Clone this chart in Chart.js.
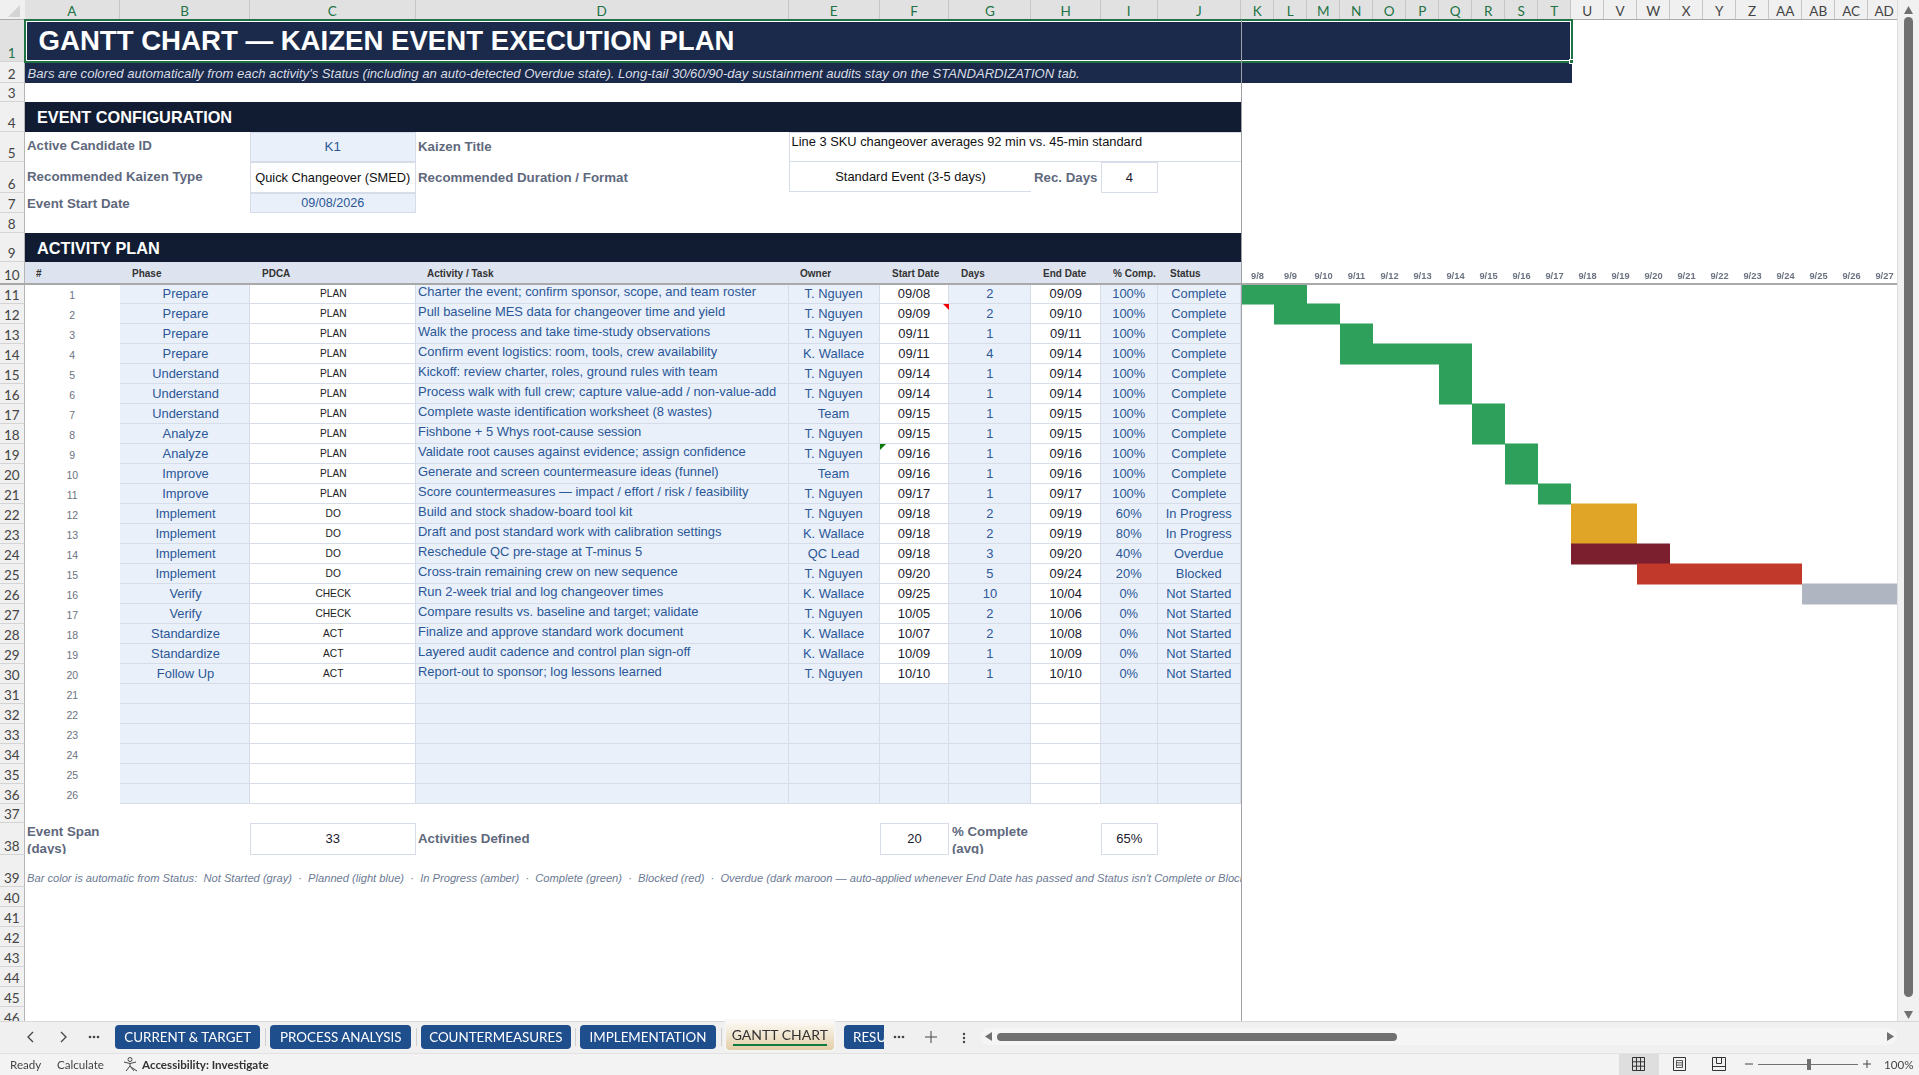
<!DOCTYPE html>
<html>
<head>
<meta charset="utf-8">
<title>Gantt Chart</title>
<script src="https://cdn.jsdelivr.net/npm/chart.js@4"></script>
<style>
html, body { margin: 0; padding: 0; background: #fff; }
#sheet { position: relative; width: 1919px; height: 1075px; overflow: hidden; font-family: "Liberation Sans", Arial, sans-serif; }
.c { position: absolute; box-sizing: border-box; display: flex; align-items: center; overflow: hidden; white-space: nowrap; }
#gantt { position: absolute; left: 1241px; top: 262px; z-index: 3; }
svg { position: absolute; overflow: visible; }
</style>
</head>
<body>
<div id="sheet"><canvas id="gantt" width="660" height="542"></canvas></div>
<script>
// table columns, read from the sheet
var activityNo = [1,2,3,4,5,6,7,8,9,10,11,12,13,14,15,16,17,18,19,20,21,22,23,24,25,26];
var phases = ["Prepare","Prepare","Prepare","Prepare","Understand","Understand","Understand","Analyze","Analyze","Improve","Improve","Implement","Implement","Implement","Implement","Verify","Verify","Standardize","Standardize","Follow Up"];
var pdca = ["PLAN","PLAN","PLAN","PLAN","PLAN","PLAN","PLAN","PLAN","PLAN","PLAN","PLAN","DO","DO","DO","DO","CHECK","CHECK","ACT","ACT","ACT"];
var activities = [
  "Charter the event; confirm sponsor, scope, and team roster",
  "Pull baseline MES data for changeover time and yield",
  "Walk the process and take time-study observations",
  "Confirm event logistics: room, tools, crew availability",
  "Kickoff: review charter, roles, ground rules with team",
  "Process walk with full crew; capture value-add / non-value-add",
  "Complete waste identification worksheet (8 wastes)",
  "Fishbone + 5 Whys root-cause session",
  "Validate root causes against evidence; assign confidence",
  "Generate and screen countermeasure ideas (funnel)",
  "Score countermeasures \u2014 impact / effort / risk / feasibility",
  "Build and stock shadow-board tool kit",
  "Draft and post standard work with calibration settings",
  "Reschedule QC pre-stage at T-minus 5",
  "Cross-train remaining crew on new sequence",
  "Run 2-week trial and log changeover times",
  "Compare results vs. baseline and target; validate",
  "Finalize and approve standard work document",
  "Layered audit cadence and control plan sign-off",
  "Report-out to sponsor; log lessons learned"
];
var owners = ["T. Nguyen","T. Nguyen","T. Nguyen","K. Wallace","T. Nguyen","T. Nguyen","Team","T. Nguyen","T. Nguyen","Team","T. Nguyen","T. Nguyen","K. Wallace","QC Lead","T. Nguyen","K. Wallace","T. Nguyen","K. Wallace","K. Wallace","T. Nguyen"];
var startDates = ["09/08","09/09","09/11","09/11","09/14","09/14","09/15","09/15","09/16","09/16","09/17","09/18","09/18","09/18","09/20","09/25","10/05","10/07","10/09","10/10"];
var durations = [2,2,1,4,1,1,1,1,1,1,1,2,2,3,5,10,2,2,1,1];
var endDates = ["09/09","09/10","09/11","09/14","09/14","09/14","09/15","09/15","09/16","09/16","09/17","09/19","09/19","09/20","09/24","10/04","10/06","10/08","10/09","10/10"];
var pctComplete = [100,100,100,100,100,100,100,100,100,100,100,60,80,40,20,0,0,0,0,0];
var statuses = ["Complete","Complete","Complete","Complete","Complete","Complete","Complete","Complete","Complete","Complete","Complete","In Progress","In Progress","Overdue","Blocked","Not Started","Not Started","Not Started","Not Started","Not Started"];
var dayLabels = ["9/8","9/9","9/10","9/11","9/12","9/13","9/14","9/15","9/16","9/17","9/18","9/19","9/20","9/21","9/22","9/23","9/24","9/25","9/26","9/27"];

var statusColor = { "Complete": "#2EA05B", "In Progress": "#E0A526", "Overdue": "#7B1E2E", "Blocked": "#C0392B", "Not Started": "#AFB5C1" };

// sheet geometry
var colX = [24.5,120,250,415.5,788.6,879.6,949.4,1031.4,1101,1157.5,1241];
var ganttLeft = 1241.2, ganttCol = 33;
var rowY = [19.5,61.5,82.7,102,131.7,162.3,193.3,213.3,233,262,283.7];
for (var r = 0; r < 26; r++) rowY.push(283.7 + 20 * (r + 1));
rowY.push(823.3, 854.7, 886.7);
for (r = 0; r < 7; r++) rowY.push(906.7 + 20 * r);

var BLUE = "#2B5797", INK = "#1A1A2E", SLATE = "#5F697D", TINT = "#E9F0FA", LINE = "#D6DCE8", NAVY = "#1B2A4A", DARK = "#111C33";
var UI = "Lato, 'Liberation Sans', sans-serif";
var sheet = document.getElementById("sheet");

function put(x0, y0, x1, y1, text, style) {
  var d = document.createElement("div");
  d.className = "c";
  d.style.left = x0 + "px";
  d.style.top = y0 + "px";
  d.style.width = (x1 - x0) + "px";
  d.style.height = (y1 - y0) + "px";
  for (var k in (style || {})) d.style[k] = style[k];
  if (text !== undefined && text !== null) d.textContent = text;
  sheet.appendChild(d);
  return d;
}
function addSvg(x, y, w, h, inner) {
  var wrap = document.createElement("div");
  wrap.innerHTML = '<svg xmlns="http://www.w3.org/2000/svg" style="left:' + x + 'px;top:' + y + 'px" width="' + w + '" height="' + h + '" viewBox="0 0 ' + w + ' ' + h + '">' + inner + '</svg>';
  sheet.appendChild(wrap.firstChild);
}
function rowTop(n) { return rowY[n - 1]; }
function rowEnd(n) { return rowY[n]; }
function colL(i) { return colX[i]; }
function boxed(bg) { return { background: bg, border: "1px solid " + LINE, justifyContent: "center" }; }
function mix(a, b) { var o = {}, k; for (k in a) o[k] = a[k]; for (k in b) o[k] = b[k]; return o; }

// column and row headers
var colNames = ["A","B","C","D","E","F","G","H","I","J"];
var ganttNames = ["K","L","M","N","O","P","Q","R","S","T","U","V","W","X","Y","Z","AA","AB","AC","AD"];
put(0, 0, 1897, 19.5, null, { background: "#F0F0F0" });
addSvg(8, 5, 13, 13, '<path d="M12 0V12H0Z" fill="#D4D4D4"/>');
function colHead(x0, x1, name, on) {
  put(x0, 0, x1, 19.5, name, { background: on ? "#E1E1E1" : "#F0F0F0", color: on ? "#217346" : "#444", justifyContent: "center", fontFamily: UI, fontSize: "13.5px", borderRight: "1px solid #C6C6C6", paddingTop: "3px" });
}
colNames.forEach(function (n, i) { colHead(colX[i], colX[i + 1], n, true); });
ganttNames.forEach(function (n, i) { colHead(ganttLeft + ganttCol * i, ganttLeft + ganttCol * (i + 1), n, i < 10); });
put(0, 19, 1897, 20, null, { background: "#ABABAB" });
for (r = 1; r <= 46; r++) {
  put(0, rowTop(r), 24.5, rowEnd(r), String(r), { background: r === 1 ? "#E1E1E1" : "#F0F0F0", color: r === 1 ? "#217346" : "#444", justifyContent: "center", alignItems: "flex-end", fontFamily: UI, fontSize: "13.5px", borderBottom: "1px solid #D4D4D4", borderRight: "1px solid #B5B5B5" });
}

// title rows
put(24.5, rowTop(1), 1572, rowEnd(1), "GANTT CHART \u2014 KAIZEN EVENT EXECUTION PLAN", { background: NAVY, color: "#fff", fontWeight: "bold", fontSize: "27.6px", paddingLeft: "14px", zIndex: 1 });
put(24.5, rowTop(2), 1572, rowEnd(2), "Bars are colored automatically from each activity's Status (including an auto-detected Overdue state). Long-tail 30/60/90-day sustainment audits stay on the STANDARDIZATION tab.", { background: NAVY, color: "#D9DDE6", fontStyle: "italic", fontSize: "13.1px", paddingLeft: "3px", paddingTop: "2px" });
put(24, 18.5, 1572.5, 62.5, null, { border: "2px solid #217346", boxShadow: "inset 0 0 0 1px #fff", zIndex: 2 });
put(1569, 59, 1574, 64, null, { background: "#217346", border: "1px solid #fff", zIndex: 4 });

// event configuration
put(24.5, rowTop(4), 1241, rowEnd(4), "EVENT CONFIGURATION", { background: DARK, color: "#fff", fontWeight: "bold", fontSize: "16.3px", paddingLeft: "12.5px", paddingTop: "2px" });
var labelStyle = { color: SLATE, fontWeight: "bold", fontSize: "13.3px", paddingLeft: "2.5px" };
put(24.5, rowTop(5), 250, rowEnd(5) - 2, "Active Candidate ID", labelStyle);
put(colL(2), rowTop(5), colL(3), rowEnd(5), "K1", mix(boxed(TINT), { color: BLUE, fontSize: "13.3px" }));
put(colL(3), rowTop(5), colL(4), rowEnd(5), "Kaizen Title", labelStyle);
put(colL(4), rowTop(5), colL(10), rowEnd(5), "Line 3 SKU changeover averages 92 min vs. 45-min standard", { color: "#111", fontSize: "12.85px", alignItems: "flex-start", paddingLeft: "2px", paddingTop: "1px", borderTop: "1px solid " + LINE, borderBottom: "1px solid " + LINE, borderLeft: "1px solid " + LINE });
put(24.5, rowTop(6), 250, rowEnd(6) - 2, "Recommended Kaizen Type", labelStyle);
put(colL(2), rowTop(6), colL(3), rowEnd(6), "Quick Changeover (SMED)", mix(boxed("#fff"), { color: "#111", fontSize: "12.8px" }));
put(colL(3), rowTop(6), colL(4), rowEnd(6), "Recommended Duration / Format", labelStyle);
put(colL(4), rowTop(6), colL(7), rowEnd(6) - 1, "Standard Event (3-5 days)", { color: "#111", fontSize: "12.9px", justifyContent: "center", borderLeft: "1px solid " + LINE, borderBottom: "1px solid " + LINE });
put(colL(7), rowTop(6), colL(8), rowEnd(6), "Rec. Days", labelStyle);
put(colL(8), rowTop(6), colL(9), rowEnd(6), "4", mix(boxed("#fff"), { color: INK, fontSize: "13px" }));
put(24.5, rowTop(7), 250, rowEnd(7), "Event Start Date", labelStyle);
put(colL(2), rowTop(7), colL(3), rowEnd(7), "09/08/2026", mix(boxed(TINT), { color: BLUE, fontSize: "12.6px" }));

// activity plan
put(24.5, rowTop(9), 1241, rowEnd(9), "ACTIVITY PLAN", { background: DARK, color: "#fff", fontWeight: "bold", fontSize: "16.3px", paddingLeft: "12.5px", paddingTop: "1px" });
put(24.5, rowTop(10), 1241, rowEnd(10), null, { background: "#DDE4EF" });
var headers = [["#",36],["Phase",132],["PDCA",262],["Activity / Task",427],["Owner",800],["Start Date",892],["Days",961],["End Date",1043],["% Comp.",1113],["Status",1170]];
headers.forEach(function (h) {
  put(h[1], rowTop(10), h[1] + 80, rowEnd(10), h[0], { color: "#333", fontWeight: "bold", fontSize: "10px", paddingTop: "2px" });
});

var whiteCols = { 2: 1, 5: 1, 7: 1 };
activityNo.forEach(function (no, i) {
  var y0 = rowTop(11 + i), y1 = rowEnd(11 + i), filled = i < phases.length;
  put(colX[0], y0, colX[1], y1, String(no), { color: "#6B7280", fontSize: "10.5px", justifyContent: "center", paddingTop: "3px" });
  var texts = filled ? [phases[i], pdca[i], activities[i], owners[i], startDates[i], String(durations[i]), endDates[i], pctComplete[i] + "%", statuses[i]] : ["","","","","","","","",""];
  for (var c = 1; c < 10; c++) {
    var isWhite = whiteCols[c] && (filled || c !== 5);
    var st = { background: isWhite ? "#fff" : TINT, borderRight: "1px solid " + LINE, borderBottom: "1px solid " + LINE, justifyContent: "center", color: BLUE, fontSize: "12.9px" };
    if (c === 1) { st.paddingLeft = "2px"; }
    if (c === 2) { st.color = "#222"; st.fontSize = "10.2px"; st.paddingLeft = "2px"; }
    if (c === 3) { st.justifyContent = "flex-start"; st.paddingLeft = "2.5px"; st.paddingBottom = "3px"; st.fontSize = "12.95px"; }
    if (c === 5 || c === 7) { st.color = INK; }
    put(colX[c], y0, colX[c + 1], y1, texts[c - 1], st);
  }
});
// note markers on the start date cells
addSvg(943, 303.5, 6, 6, '<path d="M0 0H6V6Z" fill="#F00000"/>');
addSvg(880, 443.7, 6, 6, '<path d="M0 0H6L0 6Z" fill="#0B7A0B"/>');

// summary row
var wrapStyle = { color: SLATE, fontWeight: "bold", fontSize: "13.3px", paddingLeft: "2.5px", whiteSpace: "pre", lineHeight: "17px", alignItems: "flex-start" };
put(24.5, rowTop(38), 250, rowEnd(38) - 1, "Event Span\n(days)", wrapStyle);
put(colL(2), rowTop(38), colL(3), rowEnd(38), "33", mix(boxed("#fff"), { color: INK, fontSize: "13px" }));
put(colL(3), rowTop(38), colL(4), rowEnd(38), "Activities Defined", labelStyle);
put(colL(5), rowTop(38), colL(6), rowEnd(38), "20", mix(boxed("#fff"), { color: INK, fontSize: "13px" }));
put(colL(6), rowTop(38), colL(8), rowEnd(38) - 1, "% Complete\n(avg)", wrapStyle);
put(colL(8), rowTop(38), colL(9), rowEnd(38), "65%", mix(boxed("#fff"), { color: INK, fontSize: "13px" }));
put(24.5, rowTop(39), 1241, rowEnd(39), "Bar color is automatic from Status:  Not Started (gray)  \u00B7  Planned (light blue)  \u00B7  In Progress (amber)  \u00B7  Complete (green)  \u00B7  Blocked (red)  \u00B7  Overdue (dark maroon \u2014 auto-applied whenever End Date has passed and Status isn't Complete or Blocked)", { color: "#6B7A94", fontStyle: "italic", fontSize: "11.15px", paddingLeft: "2.5px", paddingTop: "15px", whiteSpace: "pre" });

// frozen pane lines
put(0, 283, 1897, 284.5, null, { background: "#A9A9A9", zIndex: 4 });
put(1240.5, 19.5, 1241.8, 1021, null, { background: "#9EA0A4", zIndex: 4 });

// vertical scrollbar, sits over the last day column
put(1897, 0, 1919, 1021, null, { background: "#F1F1F1", borderLeft: "1px solid #DDD", zIndex: 5 });
addSvg(1904, 6, 9, 8, '<path d="M4.5 0L9 8H0Z" fill="#707070"/>');
put(1904, 17, 1913, 997, null, { background: "#707070", borderRadius: "4.5px", zIndex: 6 });
addSvg(1904, 1011, 9, 8, '<path d="M0 0H9L4.5 8Z" fill="#707070"/>');
sheet.lastChild.style.zIndex = 6;
sheet.children[sheet.children.length - 3].style.zIndex = 6;

// sheet tabs
put(0, 1021, 1919, 1053, null, { background: "#F0F0F0", borderTop: "1px solid #D8D8D8", zIndex: 5 });
var tabLayer = put(0, 0, 1919, 1075, null, { zIndex: 7, pointerEvents: "none", overflow: "visible" });
var sheetRoot = sheet;
sheet = tabLayer;
addSvg(26, 1031, 9, 12, '<path d="M7 1L2 6L7 11" fill="none" stroke="#444" stroke-width="1.3"/>');
addSvg(59, 1031, 9, 12, '<path d="M2 1L7 6L2 11" fill="none" stroke="#444" stroke-width="1.3"/>');
function dots(x) { addSvg(x, 1035, 12, 4, '<circle cx="2" cy="2" r="1.3" fill="#444"/><circle cx="6" cy="2" r="1.3" fill="#444"/><circle cx="10" cy="2" r="1.3" fill="#444"/>'); }
dots(88); dots(893);
var tabs = [["CURRENT & TARGET",115,260.4],["PROCESS ANALYSIS",270,411.4],["COUNTERMEASURES",421,570.6],["IMPLEMENTATION",580,716]];
tabs.forEach(function (t) {
  put(t[1], 1025, t[2], 1048.7, t[0], { background: "#1F4E8C", color: "#fff", fontFamily: UI, fontSize: "13.4px", justifyContent: "center", borderRadius: "4px" });
  put(t[2] + 4.5, 1028, t[2] + 5.5, 1046, null, { background: "#CFCFCF" });
});
put(725.7, 1021, 834, 1049.5, "GANTT CHART", { background: "linear-gradient(#FDFBF7,#E2CDA6)", color: "#333", fontFamily: UI, fontSize: "14px", justifyContent: "center", alignItems: "flex-start", paddingTop: "5px", borderRadius: "0 0 4px 4px", boxShadow: "0 0 0 1.5px #F5F5F5" });
put(733, 1044, 827, 1046, null, { background: "#107C41" });
put(844, 1025, 884, 1048.7, "RESULTS", { background: "#1F4E8C", color: "#fff", fontFamily: UI, fontSize: "13.4px", paddingLeft: "9px", borderRadius: "4px 0 0 4px" });
addSvg(925, 1031, 12, 12, '<path d="M6 0V12M0 6H12" stroke="#444" stroke-width="1"/>');
addSvg(962, 1032, 4, 12, '<circle cx="2" cy="2" r="1.2" fill="#444"/><circle cx="2" cy="6" r="1.2" fill="#444"/><circle cx="2" cy="10" r="1.2" fill="#444"/>');

// horizontal scrollbar
put(981, 1028, 1897, 1045, null, { background: "#F5F5F5", borderRadius: "8px" });
addSvg(985, 1032, 7, 9, '<path d="M7 0V9L0 4.5Z" fill="#707070"/>');
put(997, 1033, 1397, 1041, null, { background: "#707070", borderRadius: "4px" });
addSvg(1887, 1032, 7, 9, '<path d="M0 0V9L7 4.5Z" fill="#707070"/>');

// status bar
put(0, 1053, 1919, 1075, null, { background: "#F3F3F3", borderTop: "1px solid #E2E2E2" });
var barText = { color: "#444", fontFamily: UI, fontSize: "11.6px" };
put(10, 1054, 60, 1075, "Ready", barText);
put(57, 1054, 120, 1075, "Calculate", barText);
addSvg(123, 1057, 15, 15, '<circle cx="7" cy="2.5" r="2" fill="none" stroke="#444"/><path d="M1 5L7 6.5L13 5M7 6.5V9L3 14M7 9L11 14M8 10L14 14" fill="none" stroke="#444"/>');
put(142, 1054, 300, 1075, "Accessibility: Investigate", { color: "#333", fontFamily: UI, fontSize: "11.6px", fontWeight: "bold" });
put(1619, 1054, 1659, 1075, null, { background: "#DEDEDE" });
addSvg(1632, 1057, 13, 14, '<path d="M.5.5H12.5V13.5H.5ZM4.5.5V13.5M8.5.5V13.5M.5 4.8H12.5M.5 9.2H12.5" fill="none" stroke="#333"/>');
addSvg(1673, 1057, 13, 14, '<path d="M.5.5H12.5V13.5H.5Z" fill="none" stroke="#333"/><path d="M3.5 3.5H9.5V10.5H3.5ZM3.5 5.8H9.5M3.5 8.1H9.5" fill="none" stroke="#333" stroke-width=".8"/>');
addSvg(1712, 1057, 14, 14, '<path d="M.5.5H13.5V13.5H.5ZM.5 9.5H13.5M4.5.5V6.5M9.5.5V6.5M4.5 6.5H9.5" fill="none" stroke="#333"/>');
addSvg(1745, 1063, 8, 2, '<path d="M0 1H8" stroke="#444"/>');
addSvg(1758, 1064, 100, 1, '<path d="M0 .5H100" stroke="#707070"/>');
put(1806.5, 1059, 1811, 1070, null, { background: "#707070" });
addSvg(1863, 1060, 8, 8, '<path d="M4 0V8M0 4H8" stroke="#444"/>');
put(1884, 1054, 1915, 1075, "100%", barText);
sheet = sheetRoot;

// gantt bars: one floating bar per activity, index counted from the first day column
function dayIndex(text) {
  var p = text.split("/");
  return Math.round((new Date(2026, +p[0] - 1, +p[1]) - new Date(2026, 8, 8)) / 86400000);
}
new Chart("gantt", {
  type: "bar",
  data: {
    labels: activityNo,
    datasets: [{
      data: activities.map(function (a, i) { return [dayIndex(startDates[i]), dayIndex(endDates[i]) + 1]; }),
      backgroundColor: statuses.map(function (s) { return statusColor[s]; }),
      barPercentage: 1.05,
      categoryPercentage: 1,
      borderWidth: 0
    }]
  },
  options: {
    indexAxis: "y",
    responsive: false,
    animation: false,
    layout: { padding: 0 },
    plugins: { legend: { display: false }, tooltip: { enabled: false } },
    scales: {
      x: { type: "linear", min: 0, max: dayLabels.length, display: false },
      xDays: {
        type: "category",
        axis: "x",
        position: "top",
        labels: dayLabels,
        offset: true,
        grid: { display: false, drawTicks: false },
        border: { display: false },
        ticks: { autoSkip: false, maxRotation: 0, padding: 2, color: "#6B7280", font: { family: "Liberation Sans", size: 9.3, weight: "bold" } },
        afterFit: function (scale) { scale.height = 22; }
      },
      y: { type: "category", offset: true, display: false }
    }
  }
});
</script>
</body>
</html>
